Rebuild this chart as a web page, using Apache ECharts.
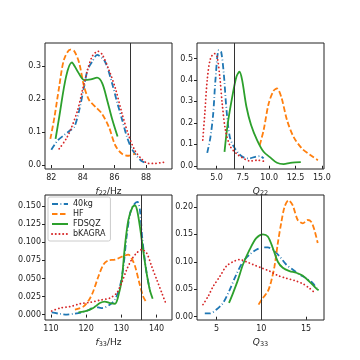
<!DOCTYPE html>
<html>
<head>
<meta charset="utf-8">
<script src="https://cdn.jsdelivr.net/npm/echarts@6/dist/echarts.min.js"></script>
<style>
  html, body { margin: 0; padding: 0; background: #fff; }
  #chart { width: 360px; height: 360px; }
</style>
</head>
<body>
<div id="chart"></div>
<script>
// series names
var names = ['40kg', 'HF', 'FDSQZ', 'bKAGRA'];
var colors = ['#1f77b4', '#ff7f0e', '#2ca02c', '#d62728'];

// f22 panel [x, density]
var f22_40kg = [[82.0,0.046],[82.4,0.074],[82.8,0.09],[83.2,0.105],[83.46,0.115],[83.77,0.166],[84.08,0.237],[84.3,0.288],[84.6,0.313],[84.9,0.333],[85.4,0.313],[85.85,0.247],[86.17,0.19],[86.5,0.135],[86.8,0.084],[87.1,0.049],[87.4,0.028],[87.7,0.013],[87.9,0.008]];
var f22_HF = [[81.94,0.079],[82.2,0.145],[82.5,0.237],[82.8,0.318],[83.2,0.349],[83.46,0.344],[83.77,0.308],[84.08,0.237],[84.4,0.196],[84.8,0.176],[85.2,0.156],[85.65,0.115],[86.06,0.059],[86.48,0.034],[86.9,0.028],[87.3,0.034]];
var f22_FDSQZ = [[82.27,0.079],[82.5,0.145],[82.94,0.268],[83.3,0.31],[83.67,0.283],[84.08,0.257],[84.5,0.259],[84.9,0.264],[85.23,0.247],[85.54,0.196],[85.85,0.14],[86.2,0.086]];
var f22_bKAGRA = [[82.5,0.049],[82.94,0.079],[83.25,0.11],[83.67,0.166],[83.98,0.227],[84.3,0.288],[84.6,0.329],[84.96,0.344],[85.23,0.334],[85.65,0.288],[86.06,0.232],[86.48,0.156],[86.9,0.09],[87.3,0.044],[87.73,0.018],[88.15,0.005],[88.56,0.005],[89.1,0.008],[89.3,0.009]];

// Q22 panel
var q22_40kg = [[4.12,0.06],[4.43,0.135],[4.69,0.244],[4.9,0.40],[5.22,0.539],[5.44,0.531],[5.69,0.43],[5.95,0.26],[6.26,0.135],[6.64,0.089],[7.11,0.057],[7.58,0.039],[8.06,0.034],[8.69,0.042],[9.16,0.045],[9.47,0.034]];
var q22_HF = [[9.1,0.096],[9.47,0.166],[9.95,0.29],[10.42,0.35],[10.74,0.36],[11.15,0.32],[11.69,0.213],[12.31,0.135],[13.1,0.081],[13.9,0.05],[14.62,0.026]];
var q22_FDSQZ = [[5.76,0.065],[6.07,0.197],[6.49,0.32],[6.89,0.415],[7.18,0.438],[7.43,0.40],[7.84,0.275],[8.28,0.19],[8.85,0.12],[9.47,0.065],[10.1,0.039],[10.74,0.014],[11.37,0.008],[12.0,0.014],[12.47,0.016],[13.0,0.017]];
var q22_bKAGRA = [[3.7,0.12],[3.89,0.244],[4.12,0.40],[4.43,0.5],[4.81,0.523],[5.06,0.508],[5.31,0.415],[5.54,0.29],[5.85,0.166],[6.32,0.089],[6.96,0.054],[7.58,0.034],[8.22,0.022],[8.85,0.026],[9.64,0.019]];

// f33 panel
var f33_40kg = [[110.2,0.003],[112.6,0.001],[114.5,0.0],[116.4,0.001],[118.7,0.003],[120.6,0.006],[122.5,0.011],[124.4,0.009],[126.8,0.014],[128.2,0.021],[129.6,0.039],[130.6,0.067],[131.5,0.108],[132.7,0.144],[133.9,0.154],[134.6,0.156],[135.3,0.144],[136.0,0.103],[137.2,0.057],[138.2,0.032]];
var f33_HF = [[116.8,0.007],[119.2,0.011],[120.9,0.021],[122.0,0.032],[123.5,0.053],[124.9,0.069],[126.3,0.075],[128.2,0.076],[130.1,0.080],[132.0,0.083],[132.9,0.078],[133.9,0.067],[135.1,0.044],[136.2,0.025],[137.0,0.018]];
var f33_FDSQZ = [[117.8,0.003],[120.1,0.005],[122.0,0.009],[123.9,0.016],[125.3,0.018],[126.8,0.016],[128.2,0.015],[129.1,0.025],[130.1,0.048],[131.0,0.094],[132.0,0.131],[133.2,0.149],[133.9,0.151],[134.5,0.144],[135.3,0.121],[136.2,0.089],[137.2,0.057],[138.1,0.034],[138.9,0.022]];
var f33_bKAGRA = [[110.2,0.005],[112.6,0.009],[115.4,0.011],[118.3,0.015],[121.1,0.017],[124.0,0.020],[126.8,0.023],[128.7,0.030],[130.1,0.044],[131.5,0.062],[132.9,0.076],[134.3,0.085],[135.8,0.090],[137.2,0.085],[138.6,0.067],[140.1,0.048],[141.5,0.030],[142.6,0.016]];

// Q33 panel
var q33_40kg = [[3.7,0.006],[4.26,0.006],[5.0,0.013],[5.74,0.025],[6.48,0.049],[7.22,0.077],[7.96,0.10],[8.7,0.113],[9.44,0.122],[10.18,0.126],[10.73,0.126],[11.29,0.122],[12.03,0.11],[12.78,0.095],[13.5,0.086],[14.26,0.077],[15.0,0.07],[15.74,0.061],[16.3,0.049]];
var q33_HF = [[9.7,0.022],[10.18,0.034],[10.73,0.046],[11.1,0.064],[11.48,0.092],[11.85,0.134],[12.22,0.17],[12.6,0.20],[13.04,0.212],[13.5,0.203],[14.07,0.176],[14.63,0.17],[15.18,0.176],[15.56,0.173],[15.93,0.158],[16.3,0.134]];
var q33_FDSQZ = [[6.4,0.025],[6.85,0.043],[7.4,0.067],[7.96,0.095],[8.7,0.122],[9.44,0.143],[10.18,0.15],[10.73,0.146],[11.29,0.125],[11.85,0.10],[12.4,0.089],[13.15,0.083],[13.9,0.08],[14.6,0.075],[15.37,0.064],[16.1,0.052],[16.4,0.048]];
var q33_bKAGRA = [[3.5,0.022],[4.07,0.037],[4.63,0.055],[5.37,0.073],[6.11,0.092],[6.85,0.10],[7.59,0.104],[8.33,0.10],[9.07,0.095],[10.0,0.089],[10.92,0.083],[11.85,0.075],[12.78,0.07],[13.7,0.066],[14.63,0.06],[15.37,0.052],[16.0,0.043]];

// vertical reference lines
var refLines = [87.0, 6.7, 135.8, 10.05];

// tick labels
var xTicks = [[82, 84, 86, 88], [5, 7.5, 10, 12.5, 15], [110, 120, 130, 140], [5, 10, 15]];
var yTicks = [[0, 0.1, 0.2, 0.3], [0, 0.1, 0.2, 0.3, 0.4, 0.5], [0, 0.025, 0.05, 0.075, 0.1, 0.125, 0.15], [0, 0.05, 0.1, 0.15, 0.2]];
var xDigits = [0, 1, 0, 0];
var yDigits = [1, 1, 3, 2];
var xNames = ['{i|f}{s|22}/Hz', '{i|Q}{s|22}', '{i|f}{s|33}/Hz', '{i|Q}{s|33}'];

// axis ranges (matplotlib style margins)
var xRanges = [[81.6, 89.65], [3.15, 15.2], [108.3, 144.4], [2.83, 17.0]];
var yRanges = [[-0.012, 0.369], [-0.015, 0.572], [-0.0075, 0.1655], [-0.006, 0.2215]];

var panels = [
  [f22_40kg, f22_HF, f22_FDSQZ, f22_bKAGRA],
  [q22_40kg, q22_HF, q22_FDSQZ, q22_bKAGRA],
  [f33_40kg, f33_HF, f33_FDSQZ, f33_bKAGRA],
  [q33_40kg, q33_HF, q33_FDSQZ, q33_bKAGRA]
];

// dash-dot, dashed, solid, dotted
var lineTypes = [[6, 2.5, 0.8, 2.5], [5.5, 2.5], 'solid', [0.1, 3.6]];
var lineCaps = ['butt', 'butt', 'butt', 'round'];

var chart = echarts.init(document.getElementById('chart'));

var grids = [
  {left: 45, top: 43, width: 127, height: 126},
  {left: 197, top: 43, width: 127, height: 126},
  {left: 45, top: 195, width: 127, height: 125},
  {left: 197, top: 195, width: 127, height: 125}
];
grids.forEach(function (g) {
  g.show = true;
  g.borderColor = '#222';
  g.borderWidth = 1;
  g.backgroundColor = 'transparent';
});

var font = 'DejaVu Sans';
var xAxes = [], yAxes = [], series = [];

for (var i = 0; i < 4; i++) {
  (function (i) {
    xAxes.push({
      type: 'value', gridIndex: i,
      min: xRanges[i][0], max: xRanges[i][1],
      axisLine: {show: false},
      splitLine: {show: false},
      axisTick: {show: true, length: 3, customValues: xTicks[i], lineStyle: {color: '#222'}},
      axisLabel: {
        customValues: xTicks[i], margin: 5, color: '#222', fontSize: 8, fontFamily: font,
        formatter: function (v) { return v.toFixed(xDigits[i]); }
      },
      name: xNames[i], nameLocation: 'middle', nameGap: 17,
      nameTextStyle: {
        color: '#222', fontFamily: font, fontSize: 9,
        rich: {
          i: {fontStyle: 'italic', fontSize: 9, fontFamily: font, color: '#222'},
          s: {fontSize: 6.5, fontFamily: font, color: '#222', verticalAlign: 'bottom', padding: [4, 0, 0, 0]}
        }
      }
    });
    yAxes.push({
      type: 'value', gridIndex: i,
      min: yRanges[i][0], max: yRanges[i][1],
      axisLine: {show: false},
      splitLine: {show: false},
      axisTick: {show: true, length: 3, customValues: yTicks[i], lineStyle: {color: '#222'}},
      axisLabel: {
        customValues: yTicks[i], margin: 4, color: '#222', fontSize: 8, fontFamily: font,
        formatter: function (v) { return v.toFixed(yDigits[i]); }
      }
    });
    for (var k = 0; k < 4; k++) {
      var s = {
        name: names[k], type: 'line',
        xAxisIndex: i, yAxisIndex: i,
        data: panels[i][k],
        smooth: 0.3, symbol: 'none',
        color: colors[k],
        lineStyle: {color: colors[k], width: 1.8, type: lineTypes[k], cap: lineCaps[k]},
        z: 2 + k
      };
      if (k === 0) {
        s.markLine = {
          silent: true, symbol: 'none', animation: false,
          label: {show: false},
          lineStyle: {color: '#333', width: 1, type: 'solid'},
          data: [{xAxis: refLines[i]}]
        };
      }
      series.push(s);
    }
  })(i);
}

var option = {
  animation: false,
  grid: grids,
  xAxis: xAxes,
  yAxis: yAxes,
  legend: {
    data: names,
    orient: 'vertical',
    left: 48, top: 197,
    itemWidth: 16, itemHeight: 8, itemGap: 2,
    padding: [3, 5, 3, 3],
    borderColor: '#ccc', borderWidth: 1, borderRadius: 2,
    backgroundColor: 'rgba(255,255,255,0.8)',
    itemStyle: {color: 'rgba(0,0,0,0)', borderWidth: 0},
    textStyle: {fontSize: 8, fontFamily: font, color: '#222'}
  },
  series: series
};

chart.setOption(option);
</script>
</body>
</html>
